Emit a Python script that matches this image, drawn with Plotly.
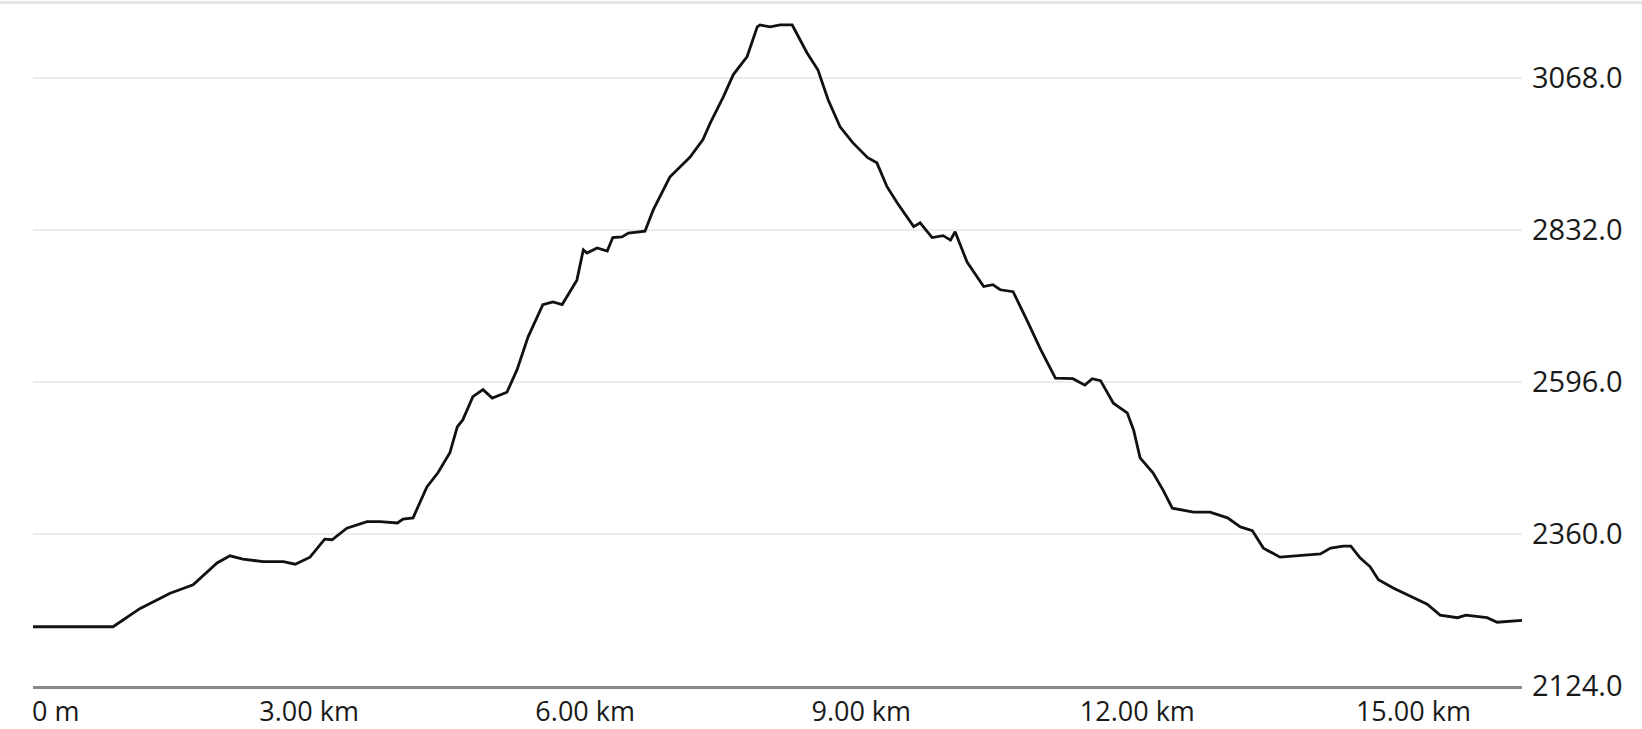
import plotly.graph_objects as go

# Elevation profile (distance in km, elevation in m)
distance_km = [0.00, 0.87, 1.16, 1.49, 1.74, 2.00, 2.14, 2.28, 2.50, 2.72, 2.85, 3.01, 3.17, 3.25, 3.41,
               3.63, 3.77, 3.96, 4.02, 4.13, 4.28, 4.40, 4.53, 4.61, 4.67, 4.78, 4.89, 4.99, 5.15, 5.26,
               5.38, 5.54, 5.65, 5.75, 5.91, 5.98, 6.02, 6.13, 6.24, 6.30, 6.40, 6.47, 6.65, 6.74, 6.92,
               7.00, 7.14, 7.28, 7.36, 7.50, 7.61, 7.76, 7.87, 7.90, 8.01, 8.12, 8.25, 8.41, 8.53, 8.64,
               8.77, 8.91, 9.07, 9.17, 9.28, 9.39, 9.50, 9.57, 9.64, 9.77, 9.89, 9.97, 10.02, 10.15, 10.33,
               10.43, 10.51, 10.65, 10.80, 10.95, 11.11, 11.30, 11.43, 11.51, 11.60, 11.74, 11.89, 11.96,
               12.03, 12.17, 12.28, 12.38, 12.61, 12.79, 12.98, 13.12, 13.25, 13.37, 13.55, 13.77, 13.99,
               14.10, 14.24, 14.32, 14.42, 14.53, 14.62, 14.78, 15.00, 15.15, 15.29, 15.48, 15.57, 15.80,
               15.91, 16.05, 16.18]
elevation_m = [2216, 2216, 2244, 2268, 2281, 2315, 2326, 2321, 2317, 2317, 2313, 2324, 2352, 2351, 2369,
               2379, 2379, 2377, 2383, 2385, 2433, 2455, 2486, 2526, 2537, 2573, 2584, 2571, 2580, 2615,
               2666, 2716, 2720, 2716, 2754, 2801, 2796, 2804, 2799, 2820, 2821, 2827, 2830, 2863, 2914,
               2925, 2945, 2972, 2998, 3038, 3073, 3101, 3147, 3150, 3147, 3150, 3150, 3107, 3080, 3034,
               2992, 2967, 2944, 2936, 2899, 2874, 2851, 2837, 2843, 2820, 2823, 2816, 2829, 2782, 2744,
               2747, 2739, 2736, 2692, 2646, 2602, 2601, 2591, 2601, 2598, 2563, 2548, 2521,
               2478, 2455, 2428, 2400, 2394, 2394, 2385, 2371, 2365, 2338, 2324, 2327, 2329,
               2338, 2341, 2341, 2323, 2309, 2289, 2276, 2261, 2251, 2234, 2230, 2234, 2230,
               2223, 2225, 2226]

y_ticks = [2124, 2360, 2596, 2832, 3068]
y_tick_labels = ["2124.0", "2360.0", "2596.0", "2832.0", "3068.0"]
x_ticks = [3, 6, 9, 12, 15]
x_tick_labels = ["3.00 km", "6.00 km", "9.00 km", "12.00 km", "15.00 km"]
x_start_label = "0 m"

FONT = "'Open Sans', Lato, sans-serif"
FS = 27
FS_Y = 29
TXT = "#1a1a1a"

fig = go.Figure()
fig.add_trace(go.Scatter(
    x=distance_km, y=elevation_m, mode="lines",
    line=dict(color="#111111", width=2.8), hoverinfo="skip", showlegend=False,
))

fig.update_layout(
    width=1642, height=729,
    margin=dict(l=33, r=120, t=5, b=43),
    paper_bgcolor="white", plot_bgcolor="white",
    font=dict(family=FONT, size=FS, color=TXT),
    xaxis=dict(
        range=[0, distance_km[-1]], tickmode="array", tickvals=x_ticks, ticktext=x_tick_labels,
        showgrid=False, zeroline=False, ticks="", showline=True, linecolor="#8a8a8a", linewidth=3,
        tickfont=dict(family=FONT, size=FS, color=TXT), fixedrange=True, automargin=False,
        ticklabelstandoff=0,
    ),
    yaxis=dict(
        range=[2124, 3181], side="right", tickmode="array", tickvals=y_ticks, ticktext=y_tick_labels,
        showgrid=True, gridcolor="#ececec", gridwidth=1.5, zeroline=False, ticks="",
        ticklabelstandoff=9, tickfont=dict(family=FONT, size=FS_Y, color=TXT), fixedrange=True,
        automargin=False,
    ),
    annotations=[dict(
        x=0, y=0, xref="x", yref="paper", text=x_start_label, showarrow=False,
        xanchor="left", yanchor="top", yshift=-4, xshift=-3,
        font=dict(family=FONT, size=FS, color=TXT),
    )],
    shapes=[dict(
        type="line", xref="paper", yref="paper", x0=-0.03, x1=1.09, y0=1 + 2.5 / 681, y1=1 + 2.5 / 681,
        line=dict(color="#e3e3e3", width=3),
    )],
)

fig.write_html(
    "out.html",
    config={"displayModeBar": False},
    post_script="document.body.style.margin='0px';document.body.style.overflow='hidden';",
)
